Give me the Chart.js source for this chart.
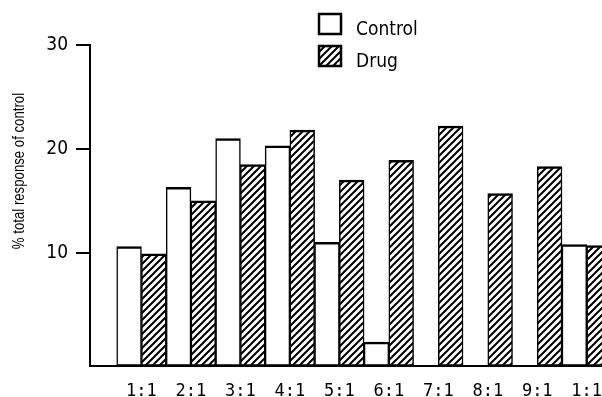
<!DOCTYPE html>
<html>
<head>
<meta charset="utf-8">
<script src="https://cdn.jsdelivr.net/npm/chart.js@4.4.0/dist/chart.umd.min.js"></script>
<style>
  html, body { margin: 0; padding: 0; background: #fff; overflow: hidden; }
  #wrap { width: 602px; height: 397px; overflow: hidden; }
</style>
</head>
<body>
<div id="wrap">
  <!-- canvas is a little wider than the window, the last bar gets cut off like in the scan -->
  <canvas id="myChart" width="612" height="397"></canvas>
</div>
<script>
// ratios on the x axis
const categories = ['1:1', '2:1', '3:1', '4:1', '5:1', '6:1', '7:1', '8:1', '9:1', '1:1'];
// % total response of control (null = no bar)
const controlValues = [10.6, 16.3, 21.0, 20.3, 11.0, 1.4, null, null, null, 10.8];
const drugValues = [9.9, 15.0, 18.5, 21.8, 17.0, 18.9, 22.2, 15.7, 18.3, 10.7];
const yTicks = [10, 20, 30];
const seriesNames = ['Control', 'Drug'];
const yMin = -0.9; // axis line sits a bit under zero in the original

// hatch fill for the drug bars
function makeHatch() {
    const p = document.createElement('canvas');
    p.width = 7;
    p.height = 7;
    const c = p.getContext('2d');
    c.fillStyle = '#fff';
    c.fillRect(0, 0, 7, 7);
    c.strokeStyle = '#000';
    c.lineWidth = 2;
    c.beginPath();
    c.moveTo(0, 7); c.lineTo(7, 0);
    c.moveTo(-1, 1); c.lineTo(1, -1);
    c.moveTo(6, 8); c.lineTo(8, 6);
    c.stroke();
    return c.createPattern(p, 'repeat');
}

const ctx = document.getElementById('myChart').getContext('2d');
const hatch = makeHatch();

// y axis title, drawn by hand because it is not centred on the axis
const yTitlePlugin = {
    id: 'yTitle',
    afterDraw(chart) {
        const c = chart.ctx;
        c.save();
        c.translate(24, 171);
        c.rotate(-Math.PI / 2);
        c.scale(0.8, 1); // squeeze it, no narrow font installed
        c.font = "16.5px 'Liberation Sans', Arial, sans-serif";
        c.fillStyle = '#000';
        c.textAlign = 'center';
        c.textBaseline = 'alphabetic';
        c.fillText('% total response of control', 0, 0);
        c.restore();
    }
};

// legend in the top middle, boxes with the same fills as the bars
const legendPlugin = {
    id: 'boxLegend',
    afterDraw(chart) {
        const c = chart.ctx;
        c.save();
        c.font = "19px 'DejaVu Sans Condensed', 'DejaVu Sans', sans-serif";
        c.textBaseline = 'alphabetic';
        c.textAlign = 'left';
        chart.data.datasets.forEach((ds, i) => {
            const top = 13 + i * 32;
            c.fillStyle = ds.backgroundColor;
            c.fillRect(319, top + 1, 22, 20);
            c.lineWidth = 2.5;
            c.strokeStyle = '#000';
            c.strokeRect(319, top + 1, 22, 20);
            c.fillStyle = '#000';
            c.fillText(ds.label, 356, top + 22);
        });
        c.restore();
    }
};

const barBorder = { top: 2.5, left: 1.5, right: 1.5, bottom: 2 };

const chart = new Chart(ctx, {
    type: 'bar',
    data: {
        datasets: [{
            label: seriesNames[0],
            data: controlValues.map((v, i) => ({ x: i + 1, y: v })),
            backgroundColor: '#fff',
            borderColor: '#000',
            borderWidth: barBorder,
            borderSkipped: false,
            base: yMin
        }, {
            label: seriesNames[1],
            data: drugValues.map((v, i) => ({ x: i + 1, y: v })),
            backgroundColor: hatch,
            borderColor: '#000',
            borderWidth: barBorder,
            borderSkipped: false,
            base: yMin
        }]
    },
    options: {
        responsive: false,
        animation: false,
        devicePixelRatio: 1,
        barPercentage: 1,
        categoryPercentage: 1,
        layout: { padding: { top: 45, right: 4, bottom: 0, left: 0 } },
        plugins: {
            legend: { display: false },
            tooltip: { enabled: false }
        },
        scales: {
            x: {
                type: 'linear',
                min: -0.04,
                max: 10.43,
                offset: false,
                grid: { display: false, offset: false },
                border: { display: true, color: '#000', width: 2 },
                afterBuildTicks: (axis) => {
                    axis.ticks = categories.map((c, i) => ({ value: i + 1 }));
                },
                afterFit: (axis) => { axis.height = 31; },
                ticks: {
                    autoSkip: false,
                    maxRotation: 0,
                    padding: 7,
                    color: '#000',
                    font: { family: "'DejaVu Sans Mono', monospace", size: 17 },
                    callback: (value) => categories[value - 1]
                }
            },
            y: {
                min: yMin,
                max: 30,
                grid: {
                    display: true,
                    drawOnChartArea: false,
                    drawTicks: true,
                    tickLength: 14,
                    color: '#000',
                    lineWidth: 2
                },
                border: { display: true, color: '#000', width: 2 },
                afterBuildTicks: (axis) => {
                    axis.ticks = yTicks.map(v => ({ value: v }));
                },
                afterFit: (axis) => { axis.width = 90; },
                ticks: {
                    padding: 8,
                    color: '#000',
                    font: { family: "'DejaVu Sans Condensed', 'DejaVu Sans', sans-serif", size: 19 }
                }
            }
        }
    },
    plugins: [yTitlePlugin, legendPlugin]
});
</script>
</body>
</html>
